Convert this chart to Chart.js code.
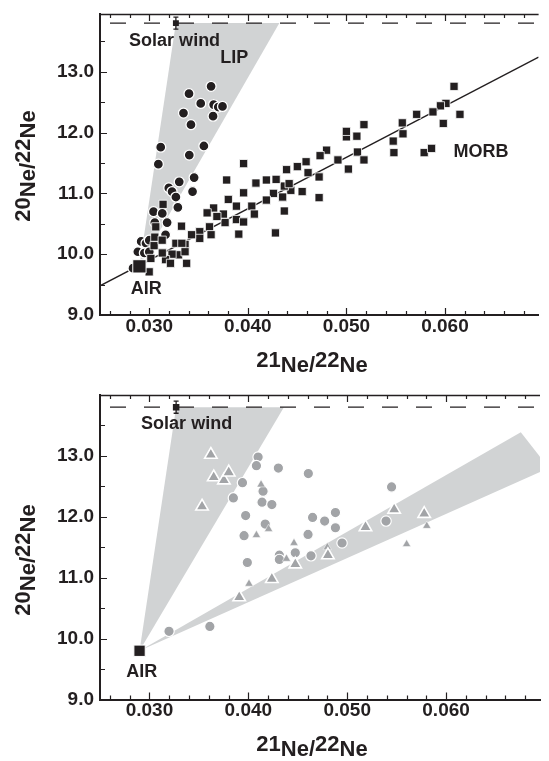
<!DOCTYPE html>
<html><head><meta charset="utf-8">
<script src="https://cdn.jsdelivr.net/npm/chart.js@4/dist/chart.umd.min.js"></script>
<style>
html,body{margin:0;padding:0;background:#fff;width:549px;height:761px;overflow:hidden}
.p{position:absolute;left:0;width:549px}
</style></head><body>
<div class="p" style="top:0;height:380px"><canvas id="c1" width="549" height="380"></canvas></div>
<div class="p" style="top:380px;height:381px"><canvas id="c2" width="549" height="381"></canvas></div>
<script>
// ---------- axes ----------
const xRange = [0.025, 0.0695];
const yRangeTop = [9.0, 13.95];
const yRangeBottom = [9.0, 14.0];
const xTickValues = [0.030, 0.040, 0.050, 0.060];
const yTickValues = [9.0, 10.0, 11.0, 12.0, 13.0];
const xMinorTicks = [0.026,0.028,0.030,0.032,0.034,0.036,0.038,0.040,0.042,0.044,0.046,0.048,0.050,0.052,0.054,0.056,0.058,0.060,0.062,0.064,0.066,0.068];
const yMinorTicks = [9.5,10.0,10.5,11.0,11.5,12.0,12.5,13.0,13.5];

// ---------- shared reference values ----------
const airPoint = [0.029, 9.8];
const solarWind = [0.0327, 13.8];
const solarWindErr = 0.1;
const solarWindRatio = 13.8;

// ---------- top panel ----------
const lipCircles = [
 [0.03627,12.76],[0.03403,12.64],[0.03522,12.48],[0.03653,12.46],[0.0370,12.42],[0.03743,12.43],
 [0.03347,12.32],[0.03647,12.27],[0.03423,12.13],[0.03116,11.76],[0.03554,11.78],[0.03406,11.63],
 [0.03092,11.48],[0.03455,11.26],[0.03304,11.19],[0.03198,11.09],[0.03231,11.03],[0.0327,10.94],
 [0.03439,11.03],[0.0329,10.77],[0.03043,10.70],[0.03132,10.67],[0.03056,10.52],[0.03181,10.52],
 [0.03165,10.32],[0.02918,10.21],[0.02967,10.18],[0.0300,10.23],[0.02884,10.04],[0.0295,10.02],
 [0.0300,10.04],[0.02835,9.77]
];
const morbSquares = [
 [0.06092,12.76],[0.0601,12.48],[0.05954,12.44],[0.05878,12.34],[0.06152,12.30],[0.05713,12.30],
 [0.05983,12.15],[0.05567,12.16],[0.05178,12.13],[0.05475,11.86],[0.05574,11.98],[0.05482,11.67],
 [0.05789,11.67],[0.05864,11.74],[0.0500,11.93],[0.0500,12.02],[0.05106,11.94],[0.05112,11.68],
 [0.05178,11.55],[0.0502,11.40],[0.04914,11.55],[0.04799,11.71],[0.04733,11.62],[0.04723,11.27],
 [0.04723,10.93],[0.04611,11.34],[0.04591,11.52],[0.04502,11.44],[0.04393,11.39],[0.04551,11.03],
 [0.04436,11.05],[0.04353,10.94],[0.0437,11.12],[0.04419,11.16],[0.04287,11.23],[0.04188,11.22],
 [0.04082,11.17],[0.0426,11.00],[0.04188,10.89],[0.0437,10.71],[0.0428,10.35],[0.03957,11.49],
 [0.03957,11.01],[0.0404,10.79],[0.04066,10.66],[0.03785,11.22],[0.03802,10.90],[0.03884,10.79],
 [0.03884,10.57],[0.03957,10.53],[0.03769,10.52],[0.03653,10.76],[0.03587,10.68],[0.03752,10.66],
 [0.03686,10.62],[0.03611,10.45],[0.03627,10.32],[0.03908,10.33],[0.03512,10.37],[0.03512,10.26],
 [0.03327,10.46],[0.03429,10.32],[0.03363,10.16],[0.0327,10.18],[0.03297,9.99],[0.03231,10.00],
 [0.03165,9.91],[0.03379,9.85],[0.03215,9.85],[0.02999,9.71],[0.03016,9.93],[0.03049,10.14],
 [0.03056,10.28],[0.03131,10.23],[0.03066,10.45],[0.0333,10.18],[0.03132,10.02],[0.03363,10.04],
 [0.0314,10.82]
];
const morbFit = [[0.025, 9.48],[0.0695, 13.24]];
const lipWedge = [[0.029, 9.8],[0.0327, 13.8],[0.0432, 13.8]];

// ---------- bottom panel ----------
const greyCircles = [
 [0.04099,12.98],[0.04082,12.84],[0.04304,12.80],[0.04607,12.71],[0.03941,12.56],[0.03849,12.31],
 [0.04149,12.42],[0.04139,12.24],[0.04238,12.20],[0.03973,12.02],[0.04171,11.88],[0.03957,11.69],
 [0.04650,11.99],[0.04604,11.71],[0.0399,11.25],[0.04314,11.37],[0.04314,11.30],[0.04475,11.41],
 [0.04634,11.36],[0.03198,10.12],[0.03611,10.20],[0.05449,12.49],[0.04772,11.93],[0.04881,12.07],
 [0.04881,11.82],[0.04948,11.57],[0.05393,11.93]
];
const greyTrianglesLarge = [
 [0.03621,13.02],[0.0365,12.65],[0.03753,12.60],[0.03802,12.73],[0.03532,12.17],[0.04238,10.98],
 [0.03908,10.68],[0.04475,11.22],[0.04805,11.37],[0.05185,11.83],[0.05475,12.12],[0.05779,12.05]
];
const greyTrianglesSmall = [
 [0.04129,12.53],[0.04082,11.70],[0.04007,10.90],[0.04462,11.57],[0.04386,11.31],[0.04799,11.50],
 [0.05805,11.85],[0.05601,11.55],[0.04205,11.80]
];
const fanWedge = [[0.029, 9.8],[0.0327, 13.8],[0.0436, 13.8]];
const bandWedge = [[0.029, 9.8],[0.06756, 13.39],[0.0704, 12.80]];

// ---------- styling ----------
const INK = '#231f20';
const GREY_PT = '#a2a4a7';
const GREY_FILL = '#d1d3d4';
const FONT = '"Liberation Sans", Arial, Helvetica, sans-serif';
const pts = a => a.map(([x, y]) => ({x, y}));

function drawSup(ctx, parts, cx, base, raise) {
  ctx.font = `bold 22px ${FONT}`;
  ctx.textAlign = 'left'; ctx.textBaseline = 'alphabetic';
  const w = parts.reduce((s, p) => s + ctx.measureText(p[0]).width, 0);
  let xx = cx - w / 2;
  for (const [t, up] of parts) {
    ctx.fillText(t, xx, base - (up ? raise : 0));
    xx += ctx.measureText(t).width;
  }
}
const xTitleParts = [['21',1],['Ne/',0],['22',1],['Ne',0]];
const yTitleParts = [['20',1],['Ne/',0],['22',1],['Ne',0]];

const framePlugin = {
  id: 'frame',
  afterDraw(chart, args, o) {
    const {ctx, chartArea: a} = chart;
    const x = chart.scales.x, y = chart.scales.y;
    ctx.save();
    ctx.strokeStyle = INK; ctx.fillStyle = INK;
    ctx.lineWidth = 1.6;
    ctx.beginPath(); ctx.moveTo(a.left - 1, a.top + 0.5); ctx.lineTo(a.right, a.top + 0.5); ctx.stroke();
    ctx.lineWidth = 1.2;
    ctx.beginPath();
    for (const v of xMinorTicks) {
      const px = Math.round(x.getPixelForValue(v)) + 0.5;
      const len = xTickValues.some(t => Math.abs(t - v) < 1e-9) ? 7 : 4;
      ctx.moveTo(px, a.bottom); ctx.lineTo(px, a.bottom - len);
      ctx.moveTo(px, a.top); ctx.lineTo(px, a.top + len);
    }
    for (const v of yMinorTicks) {
      const py = Math.round(y.getPixelForValue(v)) + 0.5;
      const len = yTickValues.some(t => Math.abs(t - v) < 1e-9) ? 7 : 5;
      ctx.moveTo(a.left, py); ctx.lineTo(a.left + len, py);
    }
    ctx.stroke();
    ctx.font = `bold 18px ${FONT}`; ctx.textAlign = 'center'; ctx.textBaseline = 'middle';
    for (const L of o.labels) ctx.fillText(L.text, x.getPixelForValue(L.x), y.getPixelForValue(L.y));
    drawSup(ctx, xTitleParts, o.xTitleX, o.xTitleBase, 5);
    ctx.save();
    ctx.translate(o.yTitleBase, o.yTitleY);
    ctx.rotate(-Math.PI / 2);
    drawSup(ctx, yTitleParts, 0, 0, 5);
    ctx.restore();
    ctx.restore();
  }
};

function scales(yRange, xHeight) {
  return {
    x: {
      type: 'linear', min: xRange[0], max: xRange[1],
      afterBuildTicks: s => { s.ticks = xTickValues.map(v => ({value: v})); },
      afterFit: s => { s.height = xHeight; s.paddingLeft = 0; s.paddingRight = 0; },
      grid: {display: false, drawTicks: false},
      border: {display: true, color: INK, width: 2},
      ticks: {autoSkip: false, maxRotation: 0, padding: 0, color: INK,
              font: {family: FONT, size: 19, weight: 'bold'},
              callback: v => Number(v).toFixed(3)}
    },
    y: {
      type: 'linear', min: yRange[0], max: yRange[1],
      afterBuildTicks: s => { s.ticks = yTickValues.map(v => ({value: v})); },
      afterFit: s => { s.width = 100; s.paddingTop = 0; s.paddingBottom = 0; },
      grid: {display: false, drawTicks: false},
      border: {display: true, color: INK, width: 2},
      ticks: {autoSkip: false, padding: 6, color: INK,
              font: {family: FONT, size: 19, weight: 'bold'},
              callback: v => Number(v).toFixed(1)}
    }
  };
}

function refDatasets(airRadius, swRadius) {
  return [
    {type: 'scatter', data: pts([airPoint]), pointStyle: 'rect', pointRadius: airRadius,
     backgroundColor: INK, borderColor: '#ffffff', borderWidth: 1, order: 0},
    {type: 'scatter', data: pts([solarWind]), pointStyle: 'rect', pointRadius: swRadius,
     backgroundColor: INK, borderColor: INK, borderWidth: 0, order: 0},
    {type: 'line', data: [{x: solarWind[0], y: solarWind[1] - solarWindErr}, {x: solarWind[0], y: solarWind[1] + solarWindErr}],
     borderColor: INK, borderWidth: 1.3, pointStyle: 'line', pointRadius: 2.5,
     pointBorderColor: INK, pointBorderWidth: 1.3, fill: false, order: 0},
    {type: 'line', data: [{x: xRange[0], y: solarWindRatio}, {x: xRange[1], y: solarWindRatio}],
     borderColor: INK, borderWidth: 1.3, borderDash: [16, 18], borderDashOffset: 24,
     pointRadius: 0, fill: false, order: 4}
  ];
}
function wedge(arr) {
  return {type: 'line', data: pts(arr), showLine: true, fill: 'shape', backgroundColor: GREY_FILL,
          borderWidth: 0, borderColor: 'rgba(0,0,0,0)', pointRadius: 0, order: 10};
}

const common = {
  responsive: false, animation: false, devicePixelRatio: 1, events: [],
  plugins: {legend: {display: false}, tooltip: {enabled: false}}
};

new Chart(document.getElementById('c1'), {
  type: 'scatter',
  data: {datasets: [
    ...refDatasets(9.4, 4.2),
    {type: 'scatter', data: pts(morbSquares), pointStyle: 'rect', pointRadius: 5.8,
     backgroundColor: INK, borderColor: '#ffffff', borderWidth: 0.8, order: 1},
    {type: 'scatter', data: pts(lipCircles), pointStyle: 'circle', pointRadius: 5,
     backgroundColor: INK, borderColor: '#ffffff', borderWidth: 1.3, order: 2},
    {type: 'line', data: pts(morbFit), borderColor: INK, borderWidth: 1.3, pointRadius: 0, fill: false, order: 3},
    wedge(lipWedge)
  ]},
  options: {
    ...common,
    layout: {padding: {top: 14, right: 0, left: 0, bottom: 0}},
    scales: scales(yRangeTop, 65),
    plugins: {...common.plugins, frame: {
      labels: [
        {text: 'Solar wind', x: 0.03257, y: 13.50},
        {text: 'LIP', x: 0.03862, y: 13.22},
        {text: 'MORB', x: 0.06366, y: 11.68},
        {text: 'AIR', x: 0.0297, y: 9.43}
      ],
      xTitleX: 312, xTitleBase: 372, yTitleBase: 35, yTitleY: 166
    }}
  },
  plugins: [framePlugin]
});

new Chart(document.getElementById('c2'), {
  type: 'scatter',
  data: {datasets: [
    ...refDatasets(8, 4.6),
    {type: 'scatter', data: pts(greyTrianglesLarge), pointStyle: 'triangle', pointRadius: 7.2,
     backgroundColor: GREY_PT, borderColor: '#ffffff', borderWidth: 1.6, order: 1},
    {type: 'scatter', data: pts(greyTrianglesSmall), pointStyle: 'triangle', pointRadius: 4.8,
     backgroundColor: GREY_PT, borderColor: '#ffffff', borderWidth: 0.5, order: 1},
    {type: 'scatter', data: pts(greyCircles), pointStyle: 'circle', pointRadius: 5.2,
     backgroundColor: GREY_PT, borderColor: '#ffffff', borderWidth: 1.2, order: 2},
    wedge(fanWedge),
    wedge(bandWedge)
  ]},
  options: {
    ...common,
    layout: {padding: {top: 15, right: 0, left: 0, bottom: 0}},
    scales: scales(yRangeBottom, 61.5),
    plugins: {...common.plugins, frame: {
      labels: [
        {text: 'Solar wind', x: 0.03376, y: 13.52},
        {text: 'AIR', x: 0.02921, y: 9.45}
      ],
      xTitleX: 312, xTitleBase: 376, yTitleBase: 35, yTitleY: 180
    }}
  },
  plugins: [framePlugin]
});
</script>
</body></html>
